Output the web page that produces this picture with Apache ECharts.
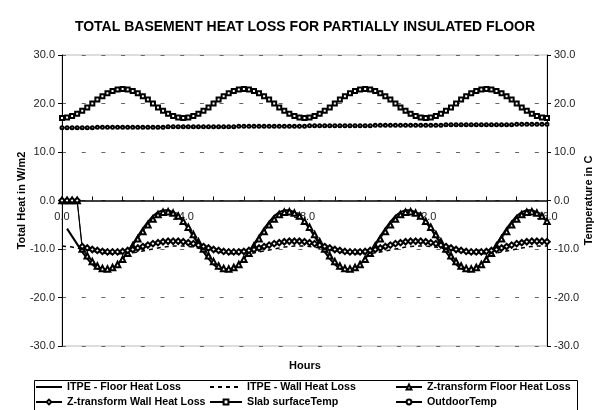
<!DOCTYPE html>
<html>
<head>
<meta charset="utf-8">
<title>Total basement heat loss</title>
<script src="https://cdn.jsdelivr.net/npm/echarts@6/dist/echarts.min.js"></script>
<style>
  html, body { margin: 0; padding: 0; background: #fff; }
  #main { width: 594px; height: 410px; }
</style>
</head>
<body>
<div id="main"></div>
<script>
// hours 0..96
var hours = [0,1,2,3,4,5,6,7,8,9,10,11,12,13,14,15,16,17,18,19,20,21,22,23,
  24,25,26,27,28,29,30,31,32,33,34,35,36,37,38,39,40,41,42,43,44,45,46,47,
  48,49,50,51,52,53,54,55,56,57,58,59,60,61,62,63,64,65,66,67,68,69,70,71,
  72,73,74,75,76,77,78,79,80,81,82,83,84,85,86,87,88,89,90,91,92,93,94,95,96];

// heat loss, W/m2 (left axis)
var itpeFloor = [null,-5.8,-7.4,-9.0,-10.6,-12.0,-13.2,-14.0,-14.5,-14.5,-14.1,-13.2,-12.0,-10.6,-9.0,-7.4,-5.8,-4.4,-3.2,-2.4,-2.0,-2.0,-2.4,-3.2,
  -4.4,-5.8,-7.4,-9.0,-10.6,-12.0,-13.2,-14.0,-14.4,-14.4,-14.0,-13.2,-12.0,-10.6,-9.0,-7.4,-5.8,-4.4,-3.2,-2.4,-2.0,-2.0,-2.4,-3.2,
  -4.4,-5.8,-7.4,-9.0,-10.6,-12.0,-13.2,-14.0,-14.4,-14.4,-14.0,-13.2,-12.0,-10.6,-9.0,-7.4,-5.8,-4.4,-3.2,-2.4,-2.0,-2.0,-2.4,-3.2,
  -4.4,-5.8,-7.4,-9.0,-10.6,-12.0,-13.2,-14.0,-14.4,-14.4,-14.0,-13.2,-12.0,-10.6,-9.0,-7.4,-5.8,-4.4,-3.2,-2.4,-2.0,-2.0,-2.4,-3.2,
  -4.4];
var itpeWall = [-9.4,-9.5,-9.6,-9.8,-10.0,-10.2,-10.4,-10.6,-10.8,-10.9,-11.0,-11.0,-11.0,-10.9,-10.8,-10.6,-10.4,-10.2,-10.0,-9.8,-9.6,-9.5,-9.4,-9.4,
  -9.4,-9.5,-9.6,-9.8,-10.0,-10.2,-10.4,-10.6,-10.8,-10.9,-11.0,-11.0,-11.0,-10.9,-10.8,-10.6,-10.4,-10.2,-10.0,-9.8,-9.6,-9.5,-9.4,-9.4,
  -9.4,-9.5,-9.6,-9.8,-10.0,-10.2,-10.4,-10.6,-10.8,-10.9,-11.0,-11.0,-11.0,-10.9,-10.8,-10.6,-10.4,-10.2,-10.0,-9.8,-9.6,-9.5,-9.4,-9.4,
  -9.4,-9.5,-9.6,-9.8,-10.0,-10.2,-10.4,-10.6,-10.8,-10.9,-11.0,-11.0,-11.0,-10.9,-10.8,-10.6,-10.4,-10.2,-10.0,-9.8,-9.6,-9.5,-9.4,-9.4,
  -9.4];
var zFloor = [0,0,0,0,-10.0,-11.4,-12.6,-13.5,-14.0,-14.1,-13.8,-13.2,-12.1,-10.9,-9.4,-7.9,-6.4,-5.0,-3.8,-2.9,-2.4,-2.3,-2.6,-3.2,
  -4.3,-5.5,-7.0,-8.5,-10.0,-11.4,-12.6,-13.5,-14.0,-14.1,-13.8,-13.2,-12.1,-10.9,-9.4,-7.9,-6.4,-5.0,-3.8,-2.9,-2.4,-2.3,-2.6,-3.2,
  -4.3,-5.5,-7.0,-8.5,-10.0,-11.4,-12.6,-13.5,-14.0,-14.1,-13.8,-13.2,-12.1,-10.9,-9.4,-7.9,-6.4,-5.0,-3.8,-2.9,-2.4,-2.3,-2.6,-3.2,
  -4.3,-5.5,-7.0,-8.5,-10.0,-11.4,-12.6,-13.5,-14.0,-14.1,-13.8,-13.2,-12.1,-10.9,-9.4,-7.9,-6.4,-5.0,-3.8,-2.9,-2.4,-2.3,-2.6,-3.2,
  -4.3];
var zWall = [0,0,0,0,-9.5,-9.8,-10.1,-10.3,-10.5,-10.6,-10.6,-10.6,-10.5,-10.3,-10.1,-9.8,-9.5,-9.2,-8.9,-8.7,-8.5,-8.4,-8.4,-8.4,
  -8.5,-8.7,-8.9,-9.2,-9.5,-9.8,-10.1,-10.3,-10.5,-10.6,-10.6,-10.6,-10.5,-10.3,-10.1,-9.8,-9.5,-9.2,-8.9,-8.7,-8.5,-8.4,-8.4,-8.4,
  -8.5,-8.7,-8.9,-9.2,-9.5,-9.8,-10.1,-10.3,-10.5,-10.6,-10.6,-10.6,-10.5,-10.3,-10.1,-9.8,-9.5,-9.2,-8.9,-8.7,-8.5,-8.4,-8.4,-8.4,
  -8.5,-8.7,-8.9,-9.2,-9.5,-9.8,-10.1,-10.3,-10.5,-10.6,-10.6,-10.6,-10.5,-10.3,-10.1,-9.8,-9.5,-9.2,-8.9,-8.7,-8.5,-8.4,-8.4,-8.4,
  -8.5];

// temperatures, C (right axis)
var slabTemp = [17.0,17.1,17.4,17.9,18.5,19.2,20.0,20.8,21.5,22.1,22.6,22.9,23.0,22.9,22.6,22.1,21.5,20.8,20.0,19.2,18.5,17.9,17.4,17.1,
  17.0,17.1,17.4,17.9,18.5,19.2,20.0,20.8,21.5,22.1,22.6,22.9,23.0,22.9,22.6,22.1,21.5,20.8,20.0,19.2,18.5,17.9,17.4,17.1,
  17.0,17.1,17.4,17.9,18.5,19.2,20.0,20.8,21.5,22.1,22.6,22.9,23.0,22.9,22.6,22.1,21.5,20.8,20.0,19.2,18.5,17.9,17.4,17.1,
  17.0,17.1,17.4,17.9,18.5,19.2,20.0,20.8,21.5,22.1,22.6,22.9,23.0,22.9,22.6,22.1,21.5,20.8,20.0,19.2,18.5,17.9,17.4,17.1,
  17.0];
var outdoorTemp = [15.0,15.0,15.0,15.0,15.0,15.0,15.0,
  15.1,15.1,15.1,15.1,15.1,15.1,15.1,15.1,15.1,15.1,15.1,15.1,15.1,15.1,
  15.2,15.2,15.2,15.2,15.2,15.2,15.2,15.2,15.2,15.2,15.2,15.2,15.2,15.2,
  15.3,15.3,15.3,15.3,15.3,15.3,15.3,15.3,15.3,15.3,15.3,15.3,15.3,15.3,
  15.4,15.4,15.4,15.4,15.4,15.4,15.4,15.4,15.4,15.4,15.4,15.4,15.4,
  15.5,15.5,15.5,15.5,15.5,15.5,15.5,15.5,15.5,15.5,15.5,15.5,15.5,15.5,
  15.6,15.6,15.6,15.6,15.6,15.6,15.6,15.6,15.6,15.6,15.6,15.6,15.6,15.6,
  15.7,15.7,15.7,15.7,15.7,15.7,15.7];

var yTicks = [-30, -20, -10, 0, 10, 20, 30];

function pairs(arr) {
  return hours.map(function (h, i) { return [h, arr[i]]; });
}

var FONT = 'Liberation Sans';
// plot box in px
var G = { left: 62, right: 47, top: 55, bottom: 64 };
var plotH = 410 - G.top - G.bottom;
var midY = G.top + plotH / 2;

var myChart = echarts.init(document.getElementById('main'), null, { renderer: 'canvas' });

function yAxisFor(pos) {
  return {
    type: 'value', position: pos, min: yTicks[0], max: yTicks[yTicks.length - 1], interval: 10,
    axisLine: { show: true, onZero: false, lineStyle: { color: '#000', width: 1 } },
    axisTick: { show: true, length: 4, lineStyle: { color: '#000' } },
    axisLabel: { fontFamily: FONT, fontSize: 11, color: '#222', margin: 7,
      formatter: function (v) { return v.toFixed(1); } },
    splitLine: pos === 'left'
      ? { show: true, lineStyle: { color: '#666', width: 1, type: [4, 15.7] } }
      : { show: false }
  };
}

function lineSeries(name, arr, axis, opts) {
  var s = {
    name: name, type: 'line', yAxisIndex: axis, data: pairs(arr),
    showSymbol: true, symbol: 'none', connectNulls: false,
    lineStyle: { color: '#000', width: 1 },
    itemStyle: { color: '#000', borderColor: '#000', borderWidth: 0.8 },
    emphasis: { disabled: true }
  };
  return Object.assign(s, opts);
}

// rotated axis title drawn as text
function sideTitle(text, x) {
  return { type: 'text', x: x, y: midY, rotation: Math.PI / 2,
    style: { text: text, fill: '#000', font: 'bold 11px "Liberation Sans"',
      textAlign: 'center', textVerticalAlign: 'middle' } };
}

var noMark = { itemStyle: { opacity: 0 } };

myChart.setOption({
  animation: false,
  backgroundColor: '#fff',
  title: {
    text: 'TOTAL BASEMENT HEAT LOSS FOR PARTIALLY INSULATED FLOOR',
    left: 305, top: 20, textAlign: 'center', padding: 0,
    textStyle: { fontFamily: FONT, fontSize: 14, fontWeight: 'bold', color: '#000' }
  },
  grid: { left: G.left, right: G.right, top: G.top, bottom: G.bottom,
    outerBoundsMode: 'none', containLabel: false,
    show: true, borderColor: '#bbb', borderWidth: 1 },
  xAxis: {
    type: 'value', min: 0, max: 96, interval: 6, position: 'bottom',
    // axis sits on the zero line of the heat axis
    offset: -plotH / 2,
    axisLine: { show: true, onZero: false, lineStyle: { color: '#000', width: 1.5 } },
    axisTick: { show: true, inside: true, length: 4, lineStyle: { color: '#000' } },
    axisLabel: { fontFamily: FONT, fontSize: 11, color: '#222', margin: 11, showMaxLabel: true, showMinLabel: true,
      formatter: function (v) { return v % 24 === 0 ? v.toFixed(1) : ''; } },
    splitLine: { show: false }
  },
  yAxis: [yAxisFor('left'), yAxisFor('right')],
  legend: [
    { data: [Object.assign({ name: 'ITPE - Floor Heat Loss' }, noMark), 'Z-transform Wall Heat Loss'], left: 35, itemWidth: 26 },
    { data: [Object.assign({ name: 'ITPE - Wall Heat Loss' }, noMark), 'Slab surfaceTemp'], left: 209, itemWidth: 32 },
    { data: ['Z-transform Floor Heat Loss', 'OutdoorTemp'], left: 395, itemWidth: 26 }
  ].map(function (l) {
    return Object.assign({
      orient: 'vertical', top: 381, padding: 0, itemHeight: 6, itemGap: 3,
      selectedMode: false,
      textStyle: { fontFamily: FONT, fontSize: 10.7, fontWeight: 'bold', color: '#000', lineHeight: 12 }
    }, l);
  }),
  graphic: [
    { type: 'rect', left: 32, top: 378, shape: { width: 543, height: 30 },
      style: { fill: 'none', stroke: '#000', lineWidth: 1 } },
    { type: 'text', x: 305, y: 366,
      style: { text: 'Hours', fill: '#000', font: 'bold 11px "Liberation Sans"',
        textAlign: 'center', textVerticalAlign: 'middle' } },
    sideTitle('Total Heat in W/m2', 22),
    sideTitle('Temperature in C', 589)
  ],
  series: [
    lineSeries('ITPE - Floor Heat Loss', itpeFloor, 0, { lineStyle: { color: '#000', width: 2 } }),
    lineSeries('ITPE - Wall Heat Loss', itpeWall, 0, { lineStyle: { color: '#000', width: 1.5, type: [4, 4] } }),
    lineSeries('Z-transform Floor Heat Loss', zFloor, 0, { symbol: 'emptyTriangle', symbolSize: 5.5 }),
    lineSeries('Z-transform Wall Heat Loss', zWall, 0, { symbol: 'emptyDiamond', symbolSize: 5.5 }),
    lineSeries('Slab surfaceTemp', slabTemp, 1, { symbol: 'emptyRect', symbolSize: 4 }),
    lineSeries('OutdoorTemp', outdoorTemp, 1, { symbol: 'emptyCircle', symbolSize: 3 })
  ]
});
window.onresize = myChart.resize;
</script>
</body>
</html>
